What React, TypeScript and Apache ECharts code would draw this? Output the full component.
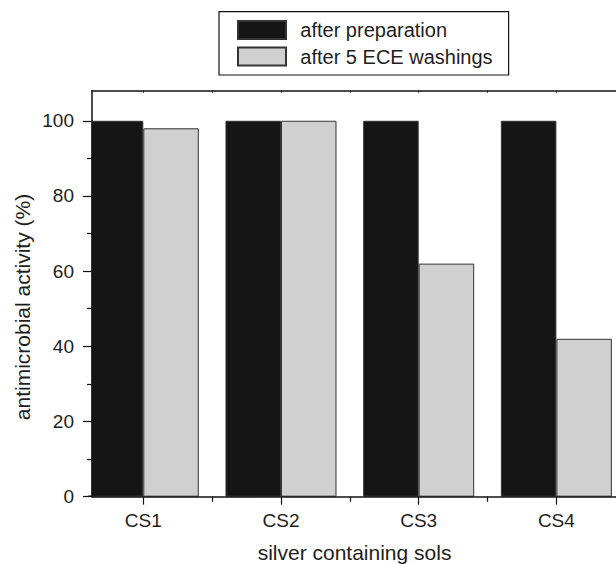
import React, { useEffect, useRef } from "react";
import * as echarts from "echarts";

const categories = ["CS1", "CS2", "CS3", "CS4"];
const afterPreparation = [100, 100, 100, 100];
const afterWashings = [98, 100, 62, 42];
const seriesNames = ["after preparation", "after 5 ECE washings"];
const yMajorTicks = [0, 20, 40, 60, 80, 100];
const yMinorTicks = [10, 30, 50, 70, 90];
const xMinorTicks = [1.5, 2.5, 3.5];
const xTitle = "silver containing sols";
const yTitle = "antimicrobial activity (%)";

const FONT = "Liberation Sans";
const TXT = "#1e1e1e";

export default function App() {
  const ref = useRef<HTMLDivElement>(null);
  useEffect(() => {
    if (!ref.current) return;
    const chart = echarts.init(ref.current, undefined, { renderer: "svg" });
    const xPos = categories.map((_, i) => i + 1);
    const xMin = 0.6275;
    const xMax = 4.433;
    const baseX = {
      type: "value" as const,
      min: xMin,
      max: xMax,
      splitLine: { show: false },
    };
    const baseY = {
      type: "value" as const,
      min: 0,
      max: 108,
      splitLine: { show: false },
    };
    chart.setOption({
      animation: false,
      textStyle: { fontFamily: FONT },
      grid: { left: 92, top: 90.7, right: 0, bottom: 67.3, containLabel: false },
      legend: {
        orient: "vertical",
        left: 219,
        top: 11.7,
        borderColor: "#111",
        borderWidth: 1.2,
        padding: [8.4, 16, 8.4, 18],
        itemWidth: 48,
        itemHeight: 18,
        itemGap: 6.5,
        icon: "rect",
        textStyle: { fontSize: 20, color: TXT, fontFamily: FONT, padding: [0, 0, 0, 9.3], lineHeight: 20 },
        data: seriesNames,
      },
      xAxis: [
        {
          ...baseX,
          position: "bottom",
          z: 10,
          axisLine: { show: true, onZero: false, lineStyle: { color: "#111", width: 1.5 } },
          axisTick: { show: true, inside: false, length: 8, customValues: xPos, lineStyle: { color: "#111", width: 1.2 } },
          axisLabel: {
            show: true,
            customValues: xPos,
            margin: 14,
            fontSize: 19,
            color: TXT,
            fontFamily: FONT,
            formatter: (v: number) => categories[Math.round(v) - 1] ?? "",
          },
        },
        {
          ...baseX,
          position: "bottom",
          z: 10,
          axisLine: { show: false, onZero: false },
          axisTick: { show: true, inside: false, length: 5, customValues: xMinorTicks, lineStyle: { color: "#111", width: 1.2 } },
          axisLabel: { show: false },
        },
        {
          ...baseX,
          position: "top",
          z: 10,
          axisLine: { show: true, onZero: false, lineStyle: { color: "#111", width: 1.5 } },
          axisTick: { show: true, inside: true, length: 2, customValues: [1, 1.5, 2, 2.5, 3, 3.5, 4], lineStyle: { color: "#111" } },
          axisLabel: { show: false },
        },
      ],
      yAxis: [
        {
          ...baseY,
          position: "left",
          z: 10,
          axisLine: { show: true, onZero: false, lineStyle: { color: "#111", width: 1.5 } },
          axisTick: { show: true, inside: false, length: 9, customValues: yMajorTicks, lineStyle: { color: "#111", width: 1.2 } },
          axisLabel: { show: true, customValues: yMajorTicks, margin: 18, fontSize: 19, color: TXT, fontFamily: FONT },
        },
        {
          ...baseY,
          position: "left",
          z: 10,
          axisLine: { show: false, onZero: false },
          axisTick: { show: true, inside: false, length: 5, customValues: yMinorTicks, lineStyle: { color: "#111", width: 1.2 } },
          axisLabel: { show: false },
        },
      ],
      graphic: [
        {
          type: "rect",
          z: 5,
          shape: { x: 78, y: 112, width: 13.6, height: 383.5 },
          style: { fill: "#ffffff" },
          silent: true,
        },
        {
          type: "text",
          x: 354.5,
          y: 552.5,
          style: { text: xTitle, fontSize: 21, fill: TXT, fontFamily: FONT, align: "center", verticalAlign: "middle" },
        },
        {
          type: "text",
          x: 22.5,
          y: 307,
          rotation: Math.PI / 2,
          style: { text: yTitle, fontSize: 21, fill: TXT, fontFamily: FONT, align: "center", verticalAlign: "middle" },
        },
      ],
      series: [
        {
          name: seriesNames[0],
          type: "bar",
          xAxisIndex: 0,
          yAxisIndex: 0,
          barWidth: 55.5,
          barGap: "0%",
          itemStyle: { color: "#151515", borderColor: "#333", borderWidth: 1 },
          data: afterPreparation.map((v, i) => [xPos[i], v]),
        },
        {
          name: seriesNames[1],
          type: "bar",
          xAxisIndex: 0,
          yAxisIndex: 0,
          barWidth: 55.5,
          barGap: "0%",
          itemStyle: { color: "#cfd0cf", borderColor: "#333", borderWidth: 1 },
          data: afterWashings.map((v, i) => [xPos[i], v]),
        },
      ],
    });
    return () => chart.dispose();
  }, []);
  return <div ref={ref} style={{ position: "absolute", left: 0, top: 0, width: 616, height: 564 }} />;
}
